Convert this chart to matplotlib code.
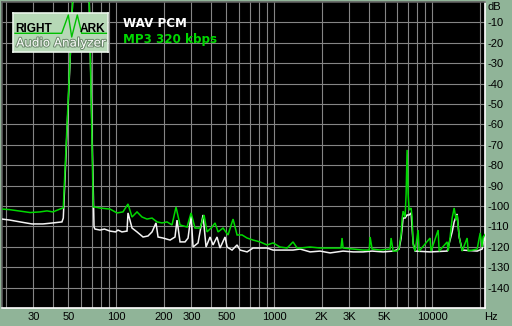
import matplotlib
matplotlib.use('Agg')
import matplotlib.pyplot as plt
import matplotlib.patheffects as pe

# ---------------- data ----------------
wav_freq = [19, 21.3, 24.7, 29.4, 34.5, 39.9, 45.5, 46.4, 53.2, 67.7,
            72.6, 73.6, 79.2, 84.5, 91.6, 99.3, 102.9, 109, 117.4, 119.1,
            126.3, 135.8, 148.3, 159.4, 169, 179.1, 184.5, 198.4, 219.7, 236.2,
            243.2, 254.1, 273.4, 285.6, 298.4, 307.2, 330.4, 355.3, 371.2, 393.6,
            411.1, 435.7, 455, 489.6, 504.2, 542, 583.4, 609.5, 674.9, 736.2,
            815, 903, 985.6, 1091, 1209, 1318, 1461, 1690, 1955, 2262,
            2734, 3162, 3658, 4169, 4897, 5666, 6180, 6365, 6553, 6745,
            6947, 7153, 7363, 7579, 7805, 9705, 12445, 13386, 13780, 14390,
            14830, 15490, 19270, 20720, 21300, 21600]
wav_db = [-106.4, -106.9, -107.8, -108.8, -108.8, -108.3, -107.8, -105.9, 1, 1,
          -110.3, -111.3, -111.8, -111.3, -112.3, -112.7, -111.8, -112.7, -112.3, -103.4,
          -110.8, -112.7, -115.2, -114.7, -112.7, -108.3, -115.2, -115.7, -116.7, -115.2,
          -106.9, -117.6, -117.6, -115.7, -104.4, -120.1, -118.1, -104.4, -120.1, -115.2,
          -119.1, -115.2, -120.6, -115.2, -120.1, -121.6, -119.1, -121.6, -122.5, -120.6,
          -120.6, -120.6, -121.6, -121.6, -121.6, -121.6, -121.1, -122.5, -122.1, -123.0,
          -122.1, -122.5, -122.5, -122.1, -122.5, -122.1, -121.1, -115.7, -105.9, -105.9,
          -104.4, -104.4, -103.4, -118.1, -122.1, -122.5, -122.1, -112.7, -107.8, -103.9,
          -115.2, -121.6, -122.1, -121.1, -115.7, -116.7]

mp3_freq = [19, 21.3, 24.7, 28.6, 33, 36.6, 39.9, 44.2, 46.4, 53.2,
            67.7, 71.8, 73.6, 79.2, 91.6, 101.5, 110.7, 119.1, 126.3, 135.8,
            146.1, 157.1, 169, 181.8, 195.5, 210.3, 226.1, 239.7, 254.1, 281.5,
            298.4, 316.2, 340.2, 360.6, 376.7, 405.2, 423.3, 442.2, 475.4, 511.5,
            550.2, 583.4, 627.7, 674.9, 736.2, 815, 903, 985.6, 1091, 1209,
            1318, 1400, 1461, 1690, 1955, 2262, 2650, 2692, 2734, 3162,
            3658, 4000, 4052, 4169, 4690, 5420, 5500, 5666, 6000, 6180,
            6365, 6458, 6553, 6745, 6845, 6947, 7048, 7153, 7363, 7470,
            7579, 7805, 8155, 8275, 9705, 9845, 10914, 11074, 12445, 12627,
            13000, 13386, 13780, 14190, 14390, 14830, 15050, 15490, 16650, 16900,
            19270, 20140, 20720, 21040, 21600]
mp3_db = [-101.5, -101.8, -102.5, -103.2, -102.9, -102.4, -102.9, -101.5, -100.9, 1,
          1, -100.5, -100.5, -101.0, -101.5, -103.4, -102.9, -99.0, -105.4, -102.9,
          -105.4, -106.4, -105.9, -107.8, -108.3, -107.8, -109.3, -100.5, -109.3, -110.3,
          -103.4, -110.8, -110.8, -104.4, -112.7, -110.3, -108.3, -112.7, -110.8, -114.2,
          -106.4, -114.2, -114.2, -115.7, -116.7, -117.6, -119.1, -118.1, -120.1, -120.6,
          -117.6, -120.6, -120.6, -120.1, -120.6, -120.6, -120.6, -115.7, -120.6, -121.1,
          -121.6, -121.6, -115.2, -121.1, -121.6, -121.1, -115.7, -122.1, -122.1, -120.6,
          -113.7, -106.4, -102.5, -105.4, -94.1, -72.5, -94.1, -102.0, -101.0, -105.4,
          -119.0, -122.1, -111.8, -122.1, -115.7, -122.1, -111.8, -122.1, -117.6, -122.1,
          -115.2, -105.9, -101.0, -106.9, -104.4, -115.2, -117.6, -122.1, -115.7, -122.1,
          -121.1, -113.2, -120.1, -115.2, -114.0]

assert len(wav_freq) == len(wav_db) and len(mp3_freq) == len(mp3_db)

series_names = ['WAV PCM', 'MP3 320 kbps']
x_tick_vals = [30, 50, 100, 200, 300, 500, 1000, 2000, 3000, 5000, 10000]
x_tick_labels = ['30', '50', '100', '200', '300', '500', '1000', '2K', '3K', '5K', '10000']
y_tick_vals = list(range(-10, -150, -10))
y_tick_labels = [str(v) for v in y_tick_vals]

# ---------------- styling ----------------
BG = '#90B498'
GRID = '#858585'
WHITE = '#F4F4F4'
GREEN = '#00D800'

W, H = 512, 326
fig = plt.figure(figsize=(W / 100, H / 100), dpi=100, facecolor=BG)

def px(x0, y0, x1, y1):
    return [x0 / W, 1 - y1 / H, (x1 - x0) / W, (y1 - y0) / H]

ax = fig.add_axes(px(2, 2, 485, 308))
ax.set_facecolor('black')
ax.set_xscale('log')
ax.set_xlim(19, 21600)
ax.set_ylim(-150, 0)

grid_x = [m * 10 ** e for e in range(1, 5) for m in range(1, 10) if 20 <= m * 10 ** e <= 20000]
for gx in grid_x:
    ax.axvline(gx, color=GRID, lw=0.8, zorder=1)
for gy in range(-140, 0, 10):
    ax.axhline(gy, color=GRID, lw=0.8, zorder=1)

ax.plot(wav_freq, wav_db, color=WHITE, lw=1.1, zorder=3, solid_joinstyle='miter')
ax.plot(mp3_freq, mp3_db, color=GREEN, lw=1.1, zorder=4, solid_joinstyle='miter')

ax.set_xticks(x_tick_vals)
ax.set_xticklabels(x_tick_labels)
ax.xaxis.set_minor_locator(matplotlib.ticker.NullLocator())
ax.set_yticks(y_tick_vals)
ax.set_yticklabels(y_tick_labels)
ax.yaxis.tick_right()
ax.tick_params(axis='both', length=0, labelsize=8, colors='black')
ax.tick_params(axis='y', pad=2)
ax.tick_params(axis='x', pad=3)
for lab in ax.get_xticklabels() + ax.get_yticklabels():
    lab.set_fontfamily('Liberation Sans')

ax.spines['left'].set_color('#606060')
ax.spines['top'].set_color('#606060')
ax.spines['right'].set_color('white')
ax.spines['bottom'].set_color('white')
for s in ax.spines.values():
    s.set_linewidth(1.2)

fig.text(488 / W, 1 - 7.5 / H, 'dB', ha='left', va='center', fontsize=8,
         family='Liberation Sans', color='black')
fig.text(490.5 / W, 1 - 316.5 / H, 'Hz', ha='center', va='center', fontsize=8,
         family='Liberation Sans', color='black')

# legend texts
fig.text(123 / W, 1 - 27 / H, series_names[0], ha='left', va='baseline',
         fontsize=8.6, fontweight='bold', color='white', family='DejaVu Sans')
fig.text(123 / W, 1 - 43 / H, series_names[1], ha='left', va='baseline',
         fontsize=8.6, fontweight='bold', color=GREEN, family='DejaVu Sans')

# logo
lg = fig.add_axes(px(13, 13, 108, 52))
lg.set_xlim(0, 95)
lg.set_ylim(39, 0)
lg.set_facecolor('#B6D8B6')
lg.set_xticks([])
lg.set_yticks([])
for s in lg.spines.values():
    s.set_color('#EAF4EA')
    s.set_linewidth(1.2)
logo_wave_x = [2, 48.7, 55.3, 58.7, 64.3, 68.7, 94]
logo_wave_y = [20.3, 20.3, 2, 24, 2, 20.3, 20.3]
lg.plot(logo_wave_x, logo_wave_y, color='#00C000', lw=1.0)
lg.text(2.5, 18.5, 'RIGHT', ha='left', va='baseline', fontsize=8.6,
        fontweight='bold', family='Liberation Sans', color='black')
lg.text(67, 18.5, 'ARK', ha='left', va='baseline', fontsize=8.6,
        fontweight='bold', family='Liberation Sans', color='black')
lg.text(48, 30, 'Audio Analyzer', ha='center', va='center', fontsize=8.6,
        family='DejaVu Sans', color='white',
        path_effects=[pe.withStroke(linewidth=1.5, foreground='#6F8C6F')])

fig.savefig('out.png', dpi=100, facecolor=BG)
